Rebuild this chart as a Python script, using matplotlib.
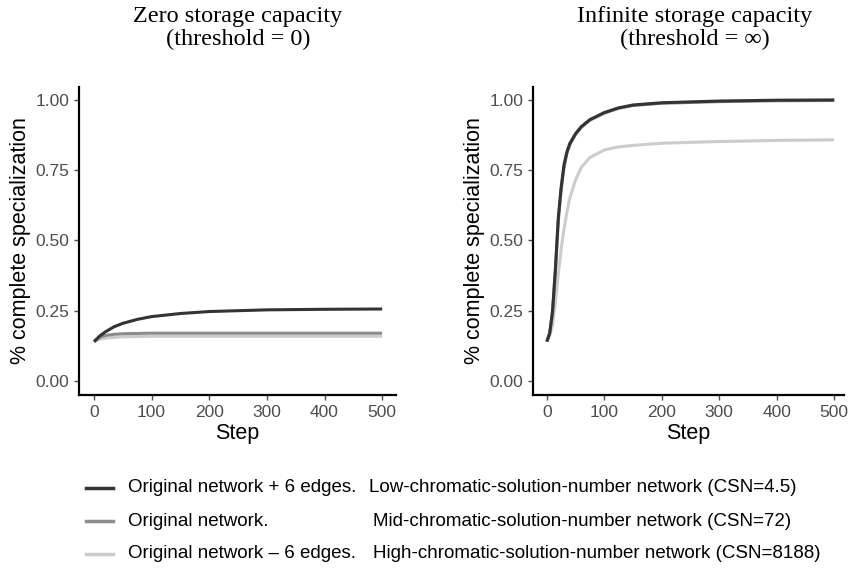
import matplotlib
matplotlib.use("Agg")
from matplotlib import pyplot as plt
from matplotlib.lines import Line2D

# data
steps_zero = [0, 10, 20, 35, 50, 75, 100, 150, 200, 250, 300, 400, 500]
dark_zero = [0.14, 0.16, 0.175, 0.193, 0.205, 0.219, 0.229, 0.24, 0.247, 0.25, 0.253, 0.255, 0.256]
mid_zero = [0.14, 0.155, 0.162, 0.166, 0.168, 0.169, 0.17, 0.17, 0.17, 0.17, 0.17, 0.17, 0.17]
light_zero = [0.14, 0.148, 0.152, 0.155, 0.157, 0.158, 0.159, 0.159, 0.159, 0.159, 0.159, 0.159, 0.159]

steps_inf = [0, 5, 10, 15, 20, 25, 30, 35, 40, 50, 60, 75, 100, 125, 150, 200, 300, 400, 500]
dark_inf = [0.14, 0.17, 0.25, 0.4, 0.58, 0.69, 0.77, 0.815, 0.845, 0.88, 0.905, 0.93, 0.955, 0.972, 0.982, 0.99, 0.996, 0.999, 1.0]
mid_inf = [0.14, 0.17, 0.24, 0.39, 0.57, 0.68, 0.76, 0.81, 0.84, 0.877, 0.902, 0.928, 0.953, 0.97, 0.98, 0.988, 0.994, 0.997, 0.998]
light_inf = [0.14, 0.16, 0.2, 0.28, 0.38, 0.47, 0.54, 0.6, 0.65, 0.715, 0.76, 0.795, 0.822, 0.833, 0.838, 0.846, 0.852, 0.856, 0.858]

series_colors = ["#333333", "#8c8c8c", "#cccccc"]
legend_left = ["Original network + 6 edges.", "Original network.", "Original network \u2013 6 edges."]
legend_right = ["Low-chromatic-solution-number network (CSN=4.5)",
                "Mid-chromatic-solution-number network (CSN=72)",
                "High-chromatic-solution-number network (CSN=8188)"]
yticks = [0.0, 0.25, 0.5, 0.75, 1.0]
xticks = [0, 100, 200, 300, 400, 500]

plt.rcParams['font.family'] = ['Liberation Sans', 'DejaVu Sans']

fig = plt.figure(figsize=(8.54, 5.73), dpi=100)
W, H = 854.0, 573.0

def make_axes(left, right, top, bottom):
    return fig.add_axes([left / W, 1 - bottom / H, (right - left) / W, (bottom - top) / H])

ax1 = make_axes(79, 396, 87, 395)
ax2 = make_axes(533, 844, 87, 395)

panels = [
    (ax1, steps_zero, [light_zero, mid_zero, dark_zero], (-26, 524)),
    (ax2, steps_inf, [light_inf, mid_inf, dark_inf], (-24, 517)),
]
for ax, xs, ys, xl in panels:
    for y, c in zip(ys, series_colors[::-1]):
        ax.plot(xs, y, color=c, lw=2.2, solid_capstyle='butt')
    ax.set_xlim(*xl)
    ax.set_ylim(-0.05, 1.046)
    ax.set_xticks(xticks)
    ax.set_yticks(yticks)
    ax.set_yticklabels(["%.2f" % v for v in yticks])
    for s in ["top", "right"]:
        ax.spines[s].set_visible(False)
    for s in ["left", "bottom"]:
        ax.spines[s].set_linewidth(1.6)
        ax.spines[s].set_color("black")
    ax.tick_params(colors="#4d4d4d", labelsize=12.5, length=3.6, width=1, pad=3.5)
    ax.set_xlabel("Step", fontsize=15.5, labelpad=2)
    ax.set_ylabel("% complete specialization", fontsize=15.5, labelpad=3)

fig.text(238 / W, 1 - 28 / H, "Zero storage capacity\n(threshold = 0)", ha="center", va="center",
         family="Liberation Serif", fontsize=17.5, linespacing=1.1)
fig.text(695 / W, 1 - 28 / H, "Infinite storage capacity\n(threshold = \u221e)", ha="center", va="center",
         family=["Liberation Serif", "DejaVu Serif"], fontsize=17.5, linespacing=1.1)

legend_y = [488, 521, 554]
right_x = [369, 373, 373]
for i in range(3):
    y = 1 - legend_y[i] / H
    fig.add_artist(Line2D([86 / W, 113 / W], [y, y], color=series_colors[i], lw=2.5,
                          transform=fig.transFigure))
    fig.text(128 / W, y, legend_left[i], ha="left", va="center", fontsize=13.5)
    fig.text(right_x[i] / W, y, legend_right[i], ha="left", va="center", fontsize=13.5)

fig.savefig("out.png", dpi=100)
